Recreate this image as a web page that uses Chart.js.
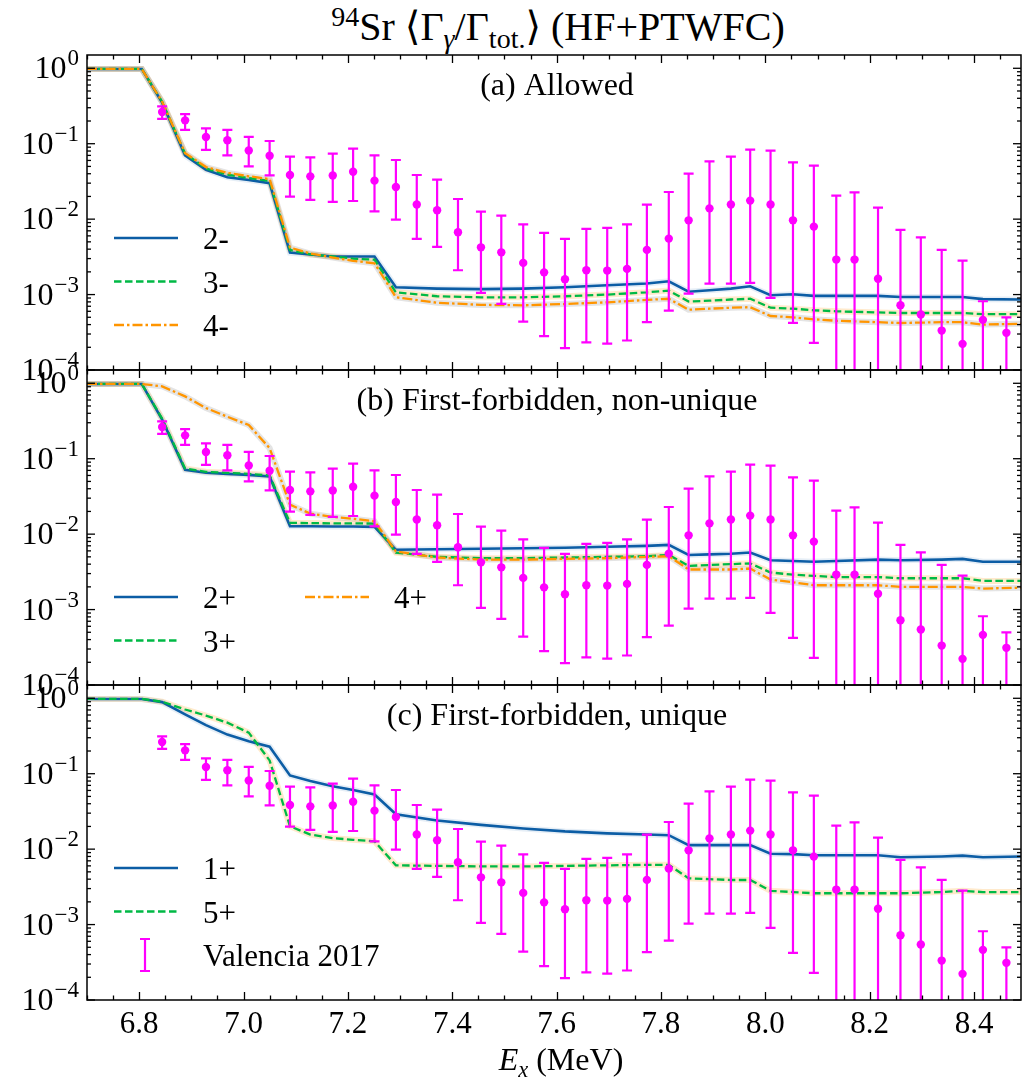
<!DOCTYPE html>
<html>
<head>
<meta charset="utf-8">
<title>94Sr gamma branching</title>
<script src="https://cdn.jsdelivr.net/npm/chart.js@4.4.0/dist/chart.umd.min.js"></script>
<style>
  body { margin: 0; background: #fff; }
  #wrap { position: relative; width: 1033px; height: 1081px; overflow: hidden; font-family: 'Liberation Serif', 'DejaVu Serif', serif; color: #000; }
  #wrap canvas { position: absolute; left: 0; }
  #title { position: absolute; left: 91px; width: 934px; top: 7px; text-align: center; font-size: 40px; line-height: 40px; white-space: nowrap; }
  #xlabel { position: absolute; left: 94px; width: 934px; top: 1041px; text-align: center; font-size: 32px; line-height: 36px; white-space: nowrap; }
  sup, sub { font-size: 0.7em; line-height: 0; position: relative; vertical-align: baseline; }
  sup { top: -0.5em; }
  sub { top: 0.3em; }
</style>
</head>
<body>
<div id="wrap">
  <div id="title"><sup>94</sup>Sr ⟨Γ<sub><i>γ</i></sub>/Γ<sub>tot.</sub>⟩ (HF+PTWFC)</div>
  <canvas id="panelA" width="1033" height="400" style="top:0px"></canvas>
  <canvas id="panelB" width="1033" height="345" style="top:355px"></canvas>
  <canvas id="panelC" width="1033" height="411" style="top:670px"></canvas>
  <div id="xlabel"><i>E</i><sub><i>x</i></sub> (MeV)</div>
</div>
<script>
// Valencia 2017 measurement (excitation energy, value, upper / lower error-bar ends)
const EX = [6.844, 6.888, 6.928, 6.969, 7.010, 7.050, 7.089, 7.128, 7.171, 7.210,
            7.251, 7.292, 7.332, 7.371, 7.411, 7.455, 7.494, 7.536, 7.576, 7.616,
            7.657, 7.697, 7.735, 7.773, 7.815, 7.853, 7.893, 7.934, 7.971, 8.010,
            8.053, 8.093, 8.136, 8.171, 8.216, 8.259, 8.298, 8.338, 8.378, 8.417, 8.462];
const VAL = [0.263, 0.204, 0.123, 0.111, 0.0815, 0.0693, 0.0385, 0.0369, 0.038, 0.0426,
             0.0324, 0.0267, 0.0156, 0.0131, 0.0067, 0.00423, 0.00363, 0.00263, 0.00197, 0.0016,
             0.0021, 0.00208, 0.00219, 0.00391, 0.00552, 0.00964, 0.0139, 0.0156, 0.0176, 0.0156,
             0.00964, 0.00796, 0.00291, 0.00291, 0.00162, 0.000722, 0.000543, 0.000333, 0.000222, 0.000462, 0.000311];
const VAL_HI = [0.312, 0.247, 0.160, 0.153, 0.123, 0.1086, 0.0673, 0.066, 0.0738, 0.0859,
                0.070, 0.0608, 0.0385, 0.0334, 0.0185, 0.01257, 0.0111, 0.00853, 0.00656, 0.00547,
                0.00741, 0.00764, 0.00853, 0.01556, 0.0229, 0.0401, 0.0583, 0.0673, 0.0833, 0.0808,
                0.0565, 0.0511, 0.0205, 0.0226, 0.0142, 0.00719, 0.00574, 0.00391, 0.00282, 0.000815, 0.0005];
const VAL_LO = [0.214, 0.153, 0.083, 0.070, 0.050, 0.038, 0.0199, 0.018, 0.0169, 0.0174,
                0.0127, 0.00985, 0.00547, 0.00428, 0.0021, 0.00105, 0.000753, 0.000439, 0.000281, 0.000195,
                0.000233, 0.000224, 0.000246, 0.00043, 0.000614, 0.00103, 0.0014, 0.0014, 0.00143, 0.000904,
                0.000422, 0.000229, 0.00005, 0.00005, 0.00005, 0.00005, 0.00005, 0.00005, 0.00005, 0.00005, 0.00005];

// HF+PTWFC curves, sampled on a common energy grid
const TH_X = [6.70, 6.805, 6.844, 6.888, 6.928, 6.969, 7.010, 7.050, 7.089, 7.128,
              7.171, 7.210, 7.251, 7.292, 7.371, 7.455, 7.536, 7.616, 7.697, 7.773,
              7.815, 7.853, 7.893, 7.934, 7.971, 8.010, 8.053, 8.093, 8.136, 8.216,
              8.259, 8.338, 8.378, 8.417, 8.49];

// (a) allowed
const A_2M = [0.98, 0.98, 0.35, 0.070, 0.045, 0.036, 0.033, 0.030, 0.0036, 0.0034,
              0.0032, 0.0032, 0.0032, 0.00125, 0.0012, 0.00118, 0.0012, 0.00125, 0.00133, 0.0014,
              0.0015, 0.00109, 0.00114, 0.0012, 0.00129, 0.00098, 0.00101, 0.00096, 0.00096, 0.00096,
              0.00093, 0.00093, 0.00093, 0.00087, 0.00086];
const A_3M = [0.98, 0.98, 0.36, 0.074, 0.047, 0.039, 0.035, 0.032, 0.0039, 0.0034,
              0.0032, 0.0030, 0.0029, 0.00107, 0.00095, 0.00092, 0.00092, 0.00095, 0.0010, 0.00107,
              0.00113, 0.00081, 0.00083, 0.00086, 0.00088, 0.00067, 0.00065, 0.00062, 0.0006, 0.00058,
              0.00057, 0.00057, 0.00057, 0.00055, 0.00055];
const A_4M = [0.98, 0.98, 0.36, 0.075, 0.049, 0.041, 0.037, 0.034, 0.0042, 0.0035,
              0.0031, 0.0028, 0.0026, 0.00092, 0.00078, 0.00073, 0.00072, 0.00075, 0.00079, 0.00085,
              0.00088, 0.00063, 0.00065, 0.00067, 0.00068, 0.00052, 0.0005, 0.00047, 0.00045, 0.00043,
              0.00042, 0.00043, 0.00043, 0.0004, 0.00041];

// (b) first-forbidden, non-unique
const B_2P = [0.98, 0.98, 0.33, 0.0715, 0.065, 0.063, 0.061, 0.058, 0.0127, 0.0127,
              0.0126, 0.0126, 0.0125, 0.0062, 0.0063, 0.0064, 0.0065, 0.0066, 0.0068, 0.0070,
              0.0072, 0.0053, 0.0054, 0.0055, 0.0057, 0.0045, 0.0044, 0.0043, 0.0044, 0.0046,
              0.0045, 0.0046, 0.0047, 0.0043, 0.0043];
const B_3P = [0.98, 0.98, 0.34, 0.074, 0.067, 0.065, 0.063, 0.060, 0.0141, 0.0140,
              0.0139, 0.0139, 0.0138, 0.0057, 0.0050, 0.0048, 0.0048, 0.0049, 0.0050, 0.0051,
              0.0053, 0.0038, 0.0039, 0.0040, 0.0041, 0.0031, 0.0029, 0.0028, 0.0027, 0.0027,
              0.0026, 0.0026, 0.0026, 0.0024, 0.0024];
const B_4P = [0.98, 0.98, 0.91, 0.67, 0.47, 0.36, 0.28, 0.138, 0.0246, 0.0187,
              0.0169, 0.016, 0.0148, 0.0059, 0.0049, 0.0046, 0.0046, 0.0047, 0.0048, 0.0050,
              0.0051, 0.0034, 0.0034, 0.0034, 0.0035, 0.0025, 0.0023, 0.0021, 0.0021, 0.0021,
              0.0020, 0.0020, 0.0020, 0.0019, 0.00195];

// (c) first-forbidden, unique
const C_1P = [0.98, 0.98, 0.89, 0.61, 0.44, 0.33, 0.27, 0.228, 0.095, 0.080,
              0.068, 0.061, 0.053, 0.029, 0.024, 0.021, 0.0188, 0.0172, 0.0162, 0.0156,
              0.0153, 0.0113, 0.0113, 0.0113, 0.0113, 0.0087, 0.0086, 0.0083, 0.0083, 0.0083,
              0.0078, 0.0080, 0.0082, 0.0078, 0.0080];
const C_5P = [0.98, 0.98, 0.90, 0.71, 0.59, 0.475, 0.35, 0.15, 0.0201, 0.0156,
              0.0140, 0.0133, 0.0127, 0.0061, 0.0060, 0.0059, 0.0059, 0.0060, 0.0061, 0.0062,
              0.0062, 0.0041, 0.0040, 0.0039, 0.0039, 0.0028, 0.0027, 0.0026, 0.0026, 0.0026,
              0.0026, 0.0027, 0.0028, 0.0027, 0.0027];

const X_TICKS = [6.8, 7.0, 7.2, 7.4, 7.6, 7.8, 8.0, 8.2, 8.4];
const Y_DECADES = [0, -1, -2, -3, -4];

const SERIF = "'Liberation Serif', 'DejaVu Serif', serif";
const BLUE = '#0C5DA5', GREEN = '#00B945', ORANGE = '#FF9500', MAGENTA = '#FF00FF';
const DASHED = [7.5, 3.5];
const DASHDOT = [10, 3, 2.5, 3];

function pts(xs, ys) { return xs.map((x, i) => ({ x, y: ys[i] })); }

function curve(label, ys, color, dash, order) {
  return { label, data: pts(TH_X, ys), borderColor: color, borderWidth: dash.length ? 2.3 : 2.6,
           borderDash: dash, pointRadius: 0, fill: false, order };
}
// soft band drawn under each curve
function halo(ys, color) {
  return { data: pts(TH_X, ys), borderColor: color, borderWidth: 6, pointRadius: 0, fill: false, order: 9 };
}
function valencia() {
  return { label: 'Valencia 2017', data: pts(EX, VAL), showLine: false, pointRadius: 4.2,
           pointBackgroundColor: MAGENTA, pointBorderWidth: 0, errLo: VAL_LO, errHi: VAL_HI, order: 0 };
}

function powLabel(ctx, xr, yc, e) {
  const sup = e === 0 ? '0' : '\u2212' + (-e);
  ctx.font = '32px ' + SERIF;
  const wb = ctx.measureText('10').width;
  ctx.font = '23px ' + SERIF;
  const ws = ctx.measureText(sup).width;
  const x0 = xr - wb - ws - 1;
  ctx.textAlign = 'left';
  ctx.textBaseline = 'alphabetic';
  ctx.font = '32px ' + SERIF;
  ctx.fillText('10', x0, yc + 10);
  ctx.font = '23px ' + SERIF;
  ctx.fillText(sup, x0 + wb + 1, yc - 3);
}

const panelDecor = {
  id: 'panelDecor',
  afterDatasetsDraw(chart, args, opts) {
    const { ctx, chartArea: a, scales: { x, y } } = chart;

    // error bars, clipped to the axes box
    ctx.save();
    ctx.beginPath();
    ctx.rect(a.left, a.top, a.right - a.left, a.bottom - a.top);
    ctx.clip();
    chart.data.datasets.forEach(ds => {
      if (!ds.errHi) return;
      ctx.strokeStyle = MAGENTA;
      ctx.lineWidth = 2.2;
      ds.data.forEach((p, i) => {
        const px = x.getPixelForValue(p.x);
        const y1 = y.getPixelForValue(ds.errHi[i]);
        const y0 = y.getPixelForValue(ds.errLo[i]);
        ctx.beginPath();
        ctx.moveTo(px, y0); ctx.lineTo(px, y1);
        ctx.moveTo(px - 5, y1); ctx.lineTo(px + 5, y1);
        ctx.moveTo(px - 5, y0); ctx.lineTo(px + 5, y0);
        ctx.stroke();
      });
    });
    ctx.restore();

    ctx.save();
    ctx.strokeStyle = '#000';
    ctx.fillStyle = '#000';
    ctx.lineWidth = 1.5;
    ctx.strokeRect(a.left, a.top, a.right - a.left, a.bottom - a.top);

    // inward ticks on all four sides
    const tick = (x0, y0, x1, y1) => { ctx.beginPath(); ctx.moveTo(x0, y0); ctx.lineTo(x1, y1); ctx.stroke(); };
    ctx.lineWidth = 1.3;
    for (let k = 134; k * 0.05 <= x.max + 1e-9; k++) {
      const v = k * 0.05;
      const major = X_TICKS.some(t => Math.abs(t - v) < 1e-6);
      const len = major ? 8 : 4.5;
      const px = Math.round(x.getPixelForValue(v)) + 0.5;
      tick(px, a.bottom, px, a.bottom - len);
      tick(px, a.top, px, a.top + len);
    }
    Y_DECADES.forEach(e => {
      const py = y.getPixelForValue(Math.pow(10, e));
      tick(a.left, py, a.left + 8, py);
      tick(a.right, py, a.right - 8, py);
      for (let m = 2; m <= 9; m++) {
        const v = m * Math.pow(10, e);
        if (v > y.max) break;
        const pm = y.getPixelForValue(v);
        tick(a.left, pm, a.left + 4, pm);
        tick(a.right, pm, a.right - 4, pm);
      }
      powLabel(ctx, a.left - 8, py, e);
    });

    if (opts.xLabels) {
      ctx.font = '31px ' + SERIF;
      ctx.textAlign = 'center';
      ctx.textBaseline = 'alphabetic';
      X_TICKS.forEach(t => ctx.fillText(t.toFixed(1), x.getPixelForValue(t), a.bottom + 33));
    }

    // panel caption
    ctx.font = '32px ' + SERIF;
    ctx.textAlign = 'center';
    ctx.textBaseline = 'alphabetic';
    ctx.fillText(opts.caption, 557, a.top + 40);

    // legend
    const lg = opts.legend;
    lg.items.forEach((label, i) => {
      const ds = chart.data.datasets.find(d => d.label === label);
      const col = Math.floor(i / lg.rows), row = i % lg.rows;
      const lx = 114 + col * 191;
      const ly = a.top + lg.top + row * 43.5;
      if (ds.errHi) {
        ctx.strokeStyle = MAGENTA;
        ctx.lineWidth = 2.2;
        ctx.setLineDash([]);
        ctx.beginPath();
        ctx.moveTo(lx + 31, ly - 16); ctx.lineTo(lx + 31, ly + 16);
        ctx.moveTo(lx + 26, ly - 16); ctx.lineTo(lx + 36, ly - 16);
        ctx.moveTo(lx + 26, ly + 16); ctx.lineTo(lx + 36, ly + 16);
        ctx.stroke();
      } else {
        ctx.strokeStyle = ds.borderColor;
        ctx.lineWidth = ds.borderWidth;
        ctx.setLineDash(ds.borderDash || []);
        ctx.beginPath();
        ctx.moveTo(lx, ly); ctx.lineTo(lx + 64, ly);
        ctx.stroke();
        ctx.setLineDash([]);
      }
      ctx.fillStyle = '#000';
      ctx.font = '31px ' + SERIF;
      ctx.textAlign = 'left';
      ctx.fillText(label, lx + 89, ly + 11);
    });
    ctx.restore();
  }
};

function panel(id, padTop, padBottom, datasets, decor) {
  return new Chart(document.getElementById(id), {
    type: 'line',
    data: { datasets },
    options: {
      responsive: false,
      animation: false,
      devicePixelRatio: 1,
      layout: { padding: { left: 87, right: 12, top: padTop, bottom: padBottom } },
      scales: {
        x: { type: 'linear', min: 6.7, max: 8.49, display: false },
        y: { type: 'logarithmic', min: 1e-4, max: 1.5, display: false },
      },
      elements: { line: { tension: 0 } },
      plugins: { legend: { display: false }, tooltip: { enabled: false }, panelDecor: decor },
    },
    plugins: [panelDecor],
  });
}

panel('panelA', 55, 30, [
  halo(A_2M, 'rgba(12,93,165,0.1)'),
  halo(A_3M, 'rgba(255,149,0,0.2)'),
  halo(A_4M, 'rgba(120,120,120,0.2)'),
  curve('2-', A_2M, BLUE, [], 3),
  curve('3-', A_3M, GREEN, DASHED, 2),
  curve('4-', A_4M, ORANGE, DASHDOT, 1),
  valencia(),
], { caption: '(a) Allowed', xLabels: false, legend: { items: ['2-', '3-', '4-'], rows: 3, top: 183 } });

panel('panelB', 15, 15, [
  halo(B_2P, 'rgba(12,93,165,0.1)'),
  halo(B_3P, 'rgba(255,149,0,0.2)'),
  halo(B_4P, 'rgba(120,120,120,0.2)'),
  curve('2+', B_2P, BLUE, [], 3),
  curve('3+', B_3P, GREEN, DASHED, 2),
  curve('4+', B_4P, ORANGE, DASHDOT, 1),
  valencia(),
], { caption: '(b) First-forbidden, non-unique', xLabels: false, legend: { items: ['2+', '3+', '4+'], rows: 2, top: 227 } });

panel('panelC', 15, 81, [
  halo(C_1P, 'rgba(12,93,165,0.1)'),
  halo(C_5P, 'rgba(255,149,0,0.2)'),
  curve('1+', C_1P, BLUE, [], 3),
  curve('5+', C_5P, GREEN, DASHED, 2),
  valencia(),
], { caption: '(c) First-forbidden, unique', xLabels: true, legend: { items: ['1+', '5+', 'Valencia 2017'], rows: 3, top: 183 } });
</script>
</body>
</html>
